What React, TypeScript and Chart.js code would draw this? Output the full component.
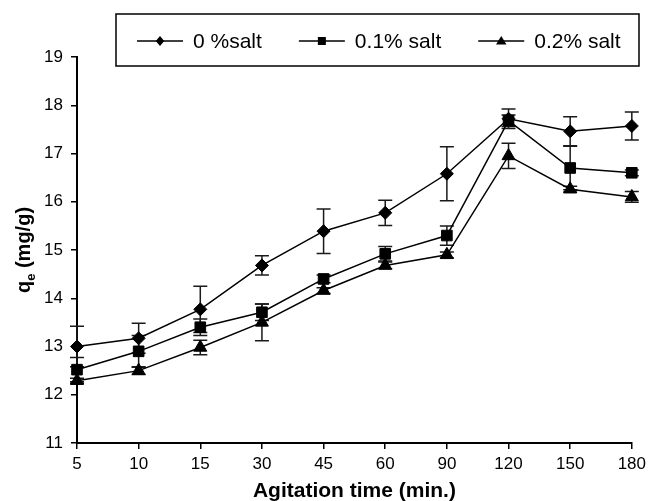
import { useEffect, useRef } from 'react';
import { Chart, registerables } from 'chart.js';

Chart.register(...registerables);

const FONT = '"Liberation Sans", Arial, Helvetica, sans-serif';

// Categories (agitation time, min.)
const times = ['5', '10', '15', '30', '45', '60', '90', '120', '150', '180'];

// Series values (qe, mg/g)
const salt0 = [13.0, 13.17, 13.77, 14.68, 15.39, 15.77, 16.58, 17.72, 17.46, 17.57];
const salt01 = [12.52, 12.9, 13.4, 13.71, 14.4, 14.92, 15.3, 17.68, 16.7, 16.6];
const salt02 = [12.29, 12.5, 12.98, 13.5, 14.16, 14.68, 14.9, 16.95, 16.26, 16.1];

// Error bar half-widths
const salt0Err = [0.42, 0.31, 0.48, 0.2, 0.46, 0.26, 0.56, 0.2, 0.3, 0.29];
const salt01Err = [0.25, 0.33, 0.17, 0.17, 0.08, 0.15, 0.2, 0.12, 0.45, 0.06];
const salt02Err = [0.05, 0.08, 0.15, 0.38, 0.06, 0.07, 0.06, 0.26, 0.06, 0.11];

const seriesLabels = ['0 %salt', '0.1% salt', '0.2% salt'];
const errorSets = [salt0Err, salt01Err, salt02Err];

const yMin = 11;
const yMax = 19;
const yStep = 1;

const xTitle = 'Agitation time (min.)';

function drawMarker(ctx: CanvasRenderingContext2D, style: string, x: number, y: number, s: number) {
  ctx.beginPath();
  if (style === 'rectRot') {
    ctx.moveTo(x, y - s);
    ctx.lineTo(x + s * 0.85, y);
    ctx.lineTo(x, y + s);
    ctx.lineTo(x - s * 0.85, y);
    ctx.closePath();
  } else if (style === 'rect') {
    ctx.rect(x - s * 0.8, y - s * 0.8, s * 1.6, s * 1.6);
  } else {
    ctx.moveTo(x, y - s);
    ctx.lineTo(x + s * 1.05, y + s * 0.7);
    ctx.lineTo(x - s * 1.05, y + s * 0.7);
    ctx.closePath();
  }
  ctx.fill();
}

const errorBarPlugin = {
  id: 'errorBars',
  beforeDatasetsDraw(chart: any) {
    const { ctx } = chart;
    const y = chart.scales.y;
    chart.data.datasets.forEach((ds: any, i: number) => {
      const meta = chart.getDatasetMeta(i);
      const errs = errorSets[i];
      meta.data.forEach((pt: any, j: number) => {
        const v = ds.data[j];
        const e = errs[j];
        const top = y.getPixelForValue(v + e);
        const bot = y.getPixelForValue(v - e);
        ctx.save();
        ctx.strokeStyle = '#1a1a1a';
        ctx.lineWidth = 1.5;
        ctx.beginPath();
        ctx.moveTo(pt.x, top);
        ctx.lineTo(pt.x, bot);
        ctx.moveTo(pt.x - 7, top);
        ctx.lineTo(pt.x + 7, top);
        ctx.moveTo(pt.x - 7, bot);
        ctx.lineTo(pt.x + 7, bot);
        ctx.stroke();
        ctx.restore();
      });
    });
  },
};

const decorPlugin = {
  id: 'decor',
  afterDraw(chart: any) {
    const { ctx, chartArea } = chart;
    ctx.save();
    // Legend box
    const bx = 116, by = 14, bw = 523, bh = 52;
    ctx.strokeStyle = '#000';
    ctx.lineWidth = 1.5;
    ctx.strokeRect(bx, by, bw, bh);
    ctx.font = `21px ${FONT}`;
    ctx.fillStyle = '#000';
    ctx.textBaseline = 'middle';
    const ly = 41;
    let x = 137;
    chart.data.datasets.forEach((ds: any) => {
      ctx.beginPath();
      ctx.lineWidth = 1.5;
      ctx.moveTo(x, ly);
      ctx.lineTo(x + 46, ly);
      ctx.stroke();
      drawMarker(ctx, ds.pointStyle, x + 23, ly, 5);
      ctx.textAlign = 'left';
      ctx.fillText(ds.label, x + 56, ly + 1);
      x = x + 56 + ctx.measureText(ds.label).width + 37;
    });

    // X title
    ctx.font = `bold 21px ${FONT}`;
    ctx.textAlign = 'center';
    ctx.textBaseline = 'alphabetic';
    ctx.fillText(xTitle, (chartArea.left + chartArea.right) / 2, 497);

    // Y title with subscript
    const cy = (chartArea.top + chartArea.bottom) / 2;
    ctx.translate(30, cy);
    ctx.rotate(-Math.PI / 2);
    const big = `bold 20px ${FONT}`;
    const small = `bold 13px ${FONT}`;
    ctx.font = big;
    const wq = ctx.measureText('q').width;
    const rest = ' (mg/g)';
    const wr = ctx.measureText(rest).width;
    ctx.font = small;
    const we = ctx.measureText('e').width;
    const total = wq + we + wr;
    let tx = -total / 2;
    ctx.textAlign = 'left';
    ctx.font = big;
    ctx.fillText('q', tx, 0);
    tx += wq;
    ctx.font = small;
    ctx.fillText('e', tx, 5);
    tx += we;
    ctx.font = big;
    ctx.fillText(rest, tx, 0);
    ctx.restore();
  },
};

export default function App() {
  const ref = useRef<HTMLCanvasElement>(null);
  useEffect(() => {
    if (!ref.current) return;
    const mk = (label: string, data: number[], style: string, r: number) => ({
      label,
      data,
      borderColor: '#000',
      backgroundColor: '#000',
      borderWidth: 1.5,
      pointStyle: style,
      pointRadius: r,
      pointBackgroundColor: '#000',
      pointBorderColor: '#000',
      pointBorderWidth: 1,
      tension: 0,
    });
    const chart = new Chart(ref.current, {
      type: 'line',
      data: {
        labels: times,
        datasets: [
          mk(seriesLabels[0], salt0, 'rectRot', 6.5),
          mk(seriesLabels[1], salt01, 'rect', 7.5),
          mk(seriesLabels[2], salt02, 'triangle', 7.5),
        ] as any,
      },
      options: {
        animation: false,
        responsive: false,
        layout: { padding: { top: 57, right: 18, left: 0, bottom: 0 } },
        plugins: { legend: { display: false }, tooltip: { enabled: false } },
        scales: {
          x: {
            type: 'category',
            offset: false,
            afterFit: (s: any) => { s.height = 58; },
            grid: { display: true, drawOnChartArea: false, drawTicks: true, tickLength: 6, color: '#000', lineWidth: 1.5 },
            border: { display: true, color: '#000', width: 2 },
            ticks: { color: '#000', font: { family: FONT, size: 17 }, padding: 5, maxRotation: 0, autoSkip: false },
          },
          y: {
            min: yMin,
            max: yMax,
            afterFit: (s: any) => { s.width = 77; },
            grid: { display: true, drawOnChartArea: false, drawTicks: true, tickLength: 6, color: '#000', lineWidth: 1.5 },
            border: { display: true, color: '#000', width: 2 },
            ticks: { stepSize: yStep, color: '#000', font: { family: FONT, size: 17 }, padding: 8 },
          },
        },
      } as any,
      plugins: [errorBarPlugin, decorPlugin],
    });
    return () => chart.destroy();
  }, []);
  return (
    <div style={{ position: 'fixed', left: 0, top: 0, width: 651, height: 501, background: '#fff' }}>
      <canvas ref={ref} width={651} height={501} style={{ width: 651, height: 501, display: 'block' }} />
    </div>
  );
}
